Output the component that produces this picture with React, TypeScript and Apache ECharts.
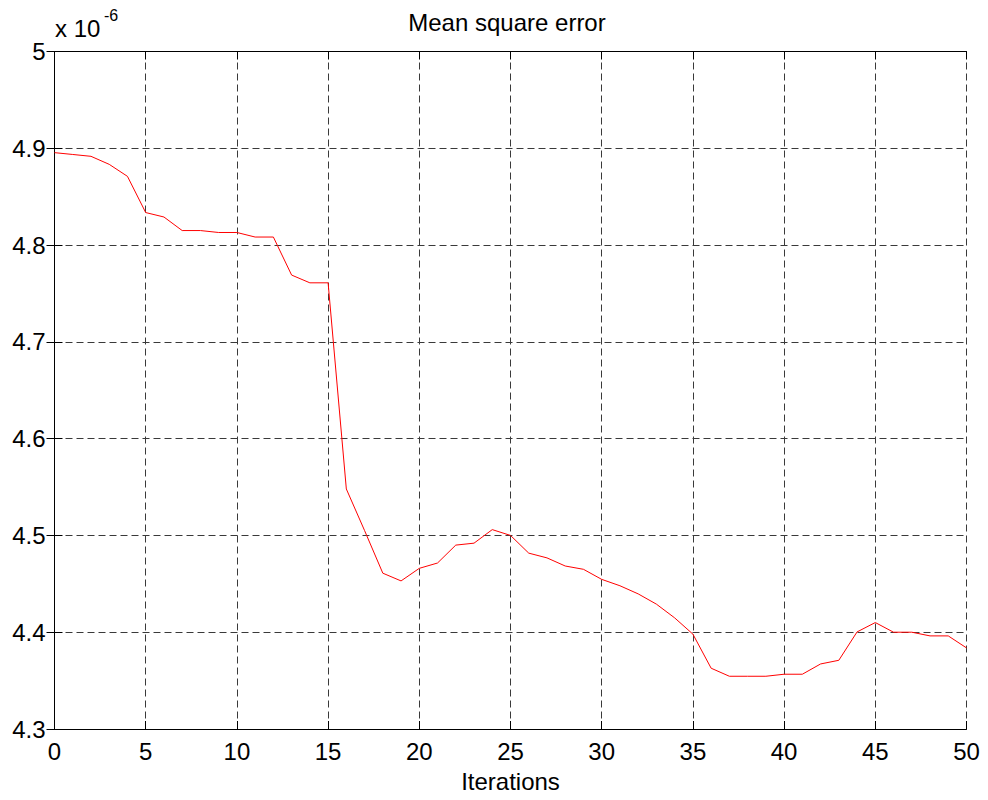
import React, { useEffect, useRef } from "react";
import * as echarts from "echarts";

// Mean square error per iteration, in units of 1e-6
const iterations = [
  0, 1, 2, 3, 4, 5, 6, 7, 8, 9, 10, 11, 12, 13, 14, 15, 16, 17, 18, 19, 20,
  21, 22, 23, 24, 25, 26, 27, 28, 29, 30, 31, 32, 33, 34, 35, 36, 37, 38, 39,
  40, 41, 42, 43, 44, 45, 46, 47, 48, 49, 50,
];
const mseScaled = [
  4.8955, 4.8936, 4.8917, 4.8834, 4.871, 4.8336, 4.829, 4.815, 4.815, 4.813,
  4.813, 4.8083, 4.8083, 4.769, 4.761, 4.761, 4.548, 4.505, 4.461, 4.453,
  4.466, 4.4715, 4.49, 4.492, 4.506, 4.5, 4.4817, 4.4768, 4.4684, 4.465,
  4.4546, 4.448, 4.4396, 4.429, 4.4148, 4.398, 4.3628, 4.3545, 4.3545, 4.3545,
  4.3566, 4.3566, 4.3672, 4.371, 4.4003, 4.41, 4.4, 4.4, 4.3962, 4.3962,
  4.3838,
];
const exponentText = "-6";
const titleText = "Mean square error";
const xAxisTitle = "Iterations";

const FONT = "'Liberation Sans', Arial, Helvetica, sans-serif";

export default function App() {
  const ref = useRef<HTMLDivElement>(null);

  useEffect(() => {
    if (!ref.current) return;
    const chart = echarts.init(ref.current, undefined, { renderer: "svg" });

    const tickStyle = { show: true, inside: true, length: 8, lineStyle: { color: "#000", width: 1 } };
    const lineStyle = { show: true, lineStyle: { color: "#000", width: 1 } };
    const gridDash = { show: true, lineStyle: { color: "#3a3a3a", width: 1, type: [7, 4] as number[] } };
    const labelStyle = { color: "#000", fontSize: 24, fontFamily: FONT };

    chart.setOption({
      animation: false,
      backgroundColor: "#fff",
      grid: { left: 54.5, right: 21.5, top: 51.5, bottom: 71, outerBoundsMode: "none" },
      xAxis: [
        {
          type: "value",
          min: 0,
          max: 50,
          interval: 5,
          position: "bottom",
          axisLine: lineStyle,
          axisTick: tickStyle,
          splitLine: gridDash,
          axisLabel: { ...labelStyle, margin: 10 },
          name: xAxisTitle,
          nameLocation: "middle",
          nameGap: 40,
          nameTextStyle: { ...labelStyle },
        },
        {
          type: "value",
          min: 0,
          max: 50,
          interval: 5,
          position: "top",
          axisLine: lineStyle,
          axisTick: tickStyle,
          splitLine: { show: false },
          axisLabel: { show: false },
        },
      ],
      yAxis: [
        {
          type: "value",
          min: 4.3,
          max: 5,
          interval: 0.1,
          position: "left",
          axisLine: lineStyle,
          axisTick: tickStyle,
          splitLine: gridDash,
          axisLabel: {
            ...labelStyle,
            margin: 9,
            formatter: (v: number) => String(Math.round(v * 10) / 10),
          },
        },
        {
          type: "value",
          min: 4.3,
          max: 5,
          interval: 0.1,
          position: "right",
          axisLine: lineStyle,
          axisTick: tickStyle,
          splitLine: { show: false },
          axisLabel: { show: false },
        },
      ],
      series: [
        {
          type: "line",
          xAxisIndex: 0,
          yAxisIndex: 0,
          data: iterations.map((it, i) => [it, mseScaled[i]]),
          symbol: "none",
          lineStyle: { color: "#ff0000", width: 1 },
          itemStyle: { color: "#ff0000" },
        },
      ],
      graphic: [
        {
          type: "text",
          x: 507,
          y: 22,
          style: {
            text: titleText,
            fill: "#000",
            fontSize: 24,
            fontFamily: FONT,
            textAlign: "center",
            textVerticalAlign: "middle",
          },
        },
        {
          type: "text",
          x: 55,
          y: 28,
          style: {
            text: "x 10",
            fill: "#000",
            fontSize: 24,
            fontFamily: FONT,
            textAlign: "left",
            textVerticalAlign: "middle",
          },
        },
        {
          type: "text",
          x: 104,
          y: 15,
          style: {
            text: exponentText,
            fill: "#000",
            fontSize: 16,
            fontFamily: FONT,
            textAlign: "left",
            textVerticalAlign: "middle",
          },
        },
      ],
    });

    return () => chart.dispose();
  }, []);

  return (
    <div
      ref={ref}
      style={{ position: "fixed", left: 0, top: 0, width: 988, height: 800, background: "#fff" }}
    />
  );
}
